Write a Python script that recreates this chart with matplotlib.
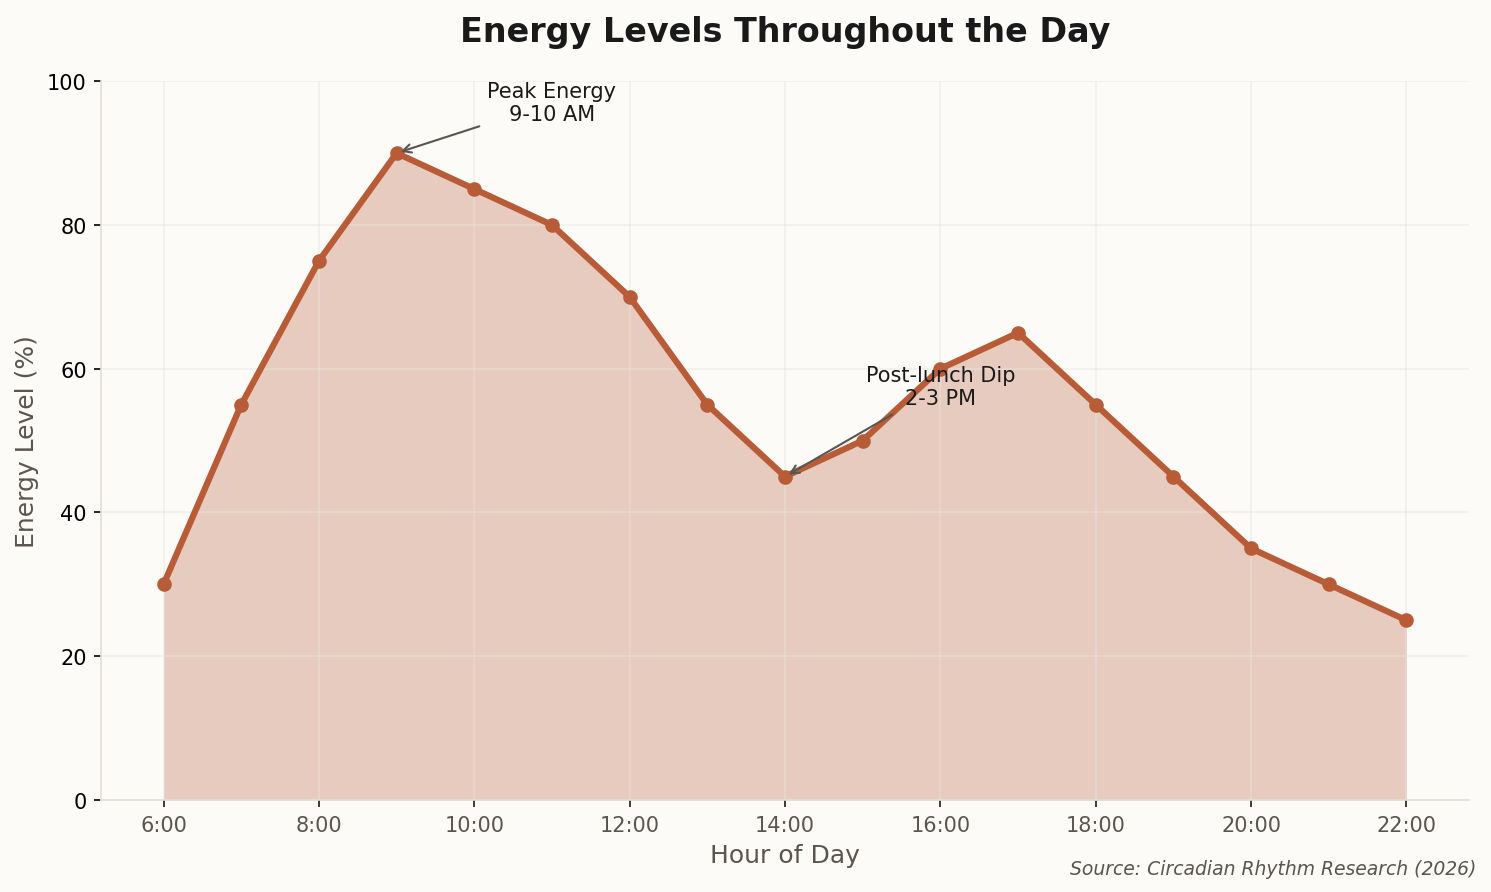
import matplotlib.pyplot as plt
import numpy as np

# energy data, one point per hour
hours = [6, 7, 8, 9, 10, 11, 12, 13, 14, 15, 16, 17, 18, 19, 20, 21, 22]
energy = [30, 55, 75, 90, 85, 80, 70, 55, 45, 50, 60, 65, 55, 45, 35, 30, 25]
tick_hours = [6, 8, 10, 12, 14, 16, 18, 20, 22]
tick_labels = ['%d:00' % h for h in tick_hours]

bg = '#fcfbf8'
line_c = '#b85c38'
grey = '#5a5550'

fig, ax = plt.subplots(figsize=(9.94, 5.953), dpi=150)
fig.patch.set_facecolor(bg)
ax.set_facecolor(bg)

ax.fill_between(hours, energy, 0, color=line_c, alpha=0.3, linewidth=0)
ax.plot(hours, energy, '-o', color=line_c, linewidth=3, markersize=6)

ax.set_ylim(0, 100)
ax.set_xticks(tick_hours)
ax.set_xticklabels(tick_labels)
ax.tick_params(axis='x', colors='#1a1a1a', labelcolor=grey, labelsize=10)
ax.tick_params(axis='y', labelsize=10)
# grid sits above the fill but under the line
ax.set_axisbelow('line')
ax.grid(True, color='#e8e4df', alpha=0.5, linewidth=0.8)

for s in ['top', 'right']:
    ax.spines[s].set_visible(False)
for s in ['left', 'bottom']:
    ax.spines[s].set_color('#e5ddd8')

ax.set_xlabel('Hour of Day', fontsize=12, color=grey)
ax.set_ylabel('Energy Level (%)', fontsize=12, color=grey)
ax.set_title('Energy Levels Throughout the Day', fontsize=16, fontweight='bold',
             color='#1a1a1a', pad=19.5)

arrow = dict(arrowstyle='->', color=grey, lw=1)
ax.annotate('Peak Energy\n9-10 AM', xy=(9, 90), xytext=(11, 97),
            ha='center', va='center', fontsize=10, color='#1a1a1a', arrowprops=arrow)
ax.annotate('Post-lunch Dip\n2-3 PM', xy=(14, 45), xytext=(16, 57.5),
            ha='center', va='center', fontsize=10, color='#1a1a1a', arrowprops=arrow)

fig.text(0.99, 0.02, 'Source: Circadian Rhythm Research (2026)', ha='right',
         fontsize=9, style='italic', color=grey)

plt.subplots_adjust(left=0.068, right=0.985, top=0.908, bottom=0.103)
plt.savefig('out.png', dpi=150, facecolor=bg)
